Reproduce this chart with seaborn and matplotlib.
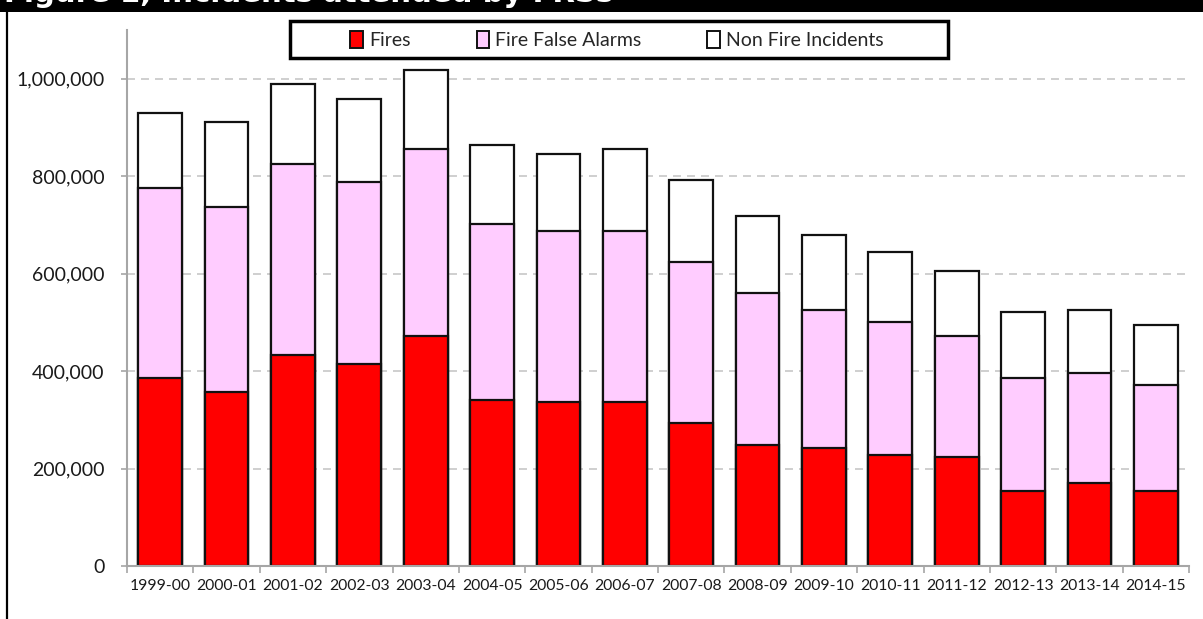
import matplotlib
matplotlib.use("Agg")
import matplotlib.pyplot as plt
from matplotlib.patches import Rectangle, Patch
from matplotlib.lines import Line2D
from matplotlib.ticker import FuncFormatter, FixedLocator
import seaborn as sns
import pandas as pd

# Financial years
years = ["1999-00", "2000-01", "2001-02", "2002-03", "2003-04", "2004-05",
         "2005-06", "2006-07", "2007-08", "2008-09", "2009-10", "2010-11",
         "2011-12", "2012-13", "2013-14", "2014-15"]

# Incidents attended, by type
fires = [386000, 358000, 432000, 414000, 473000, 340000, 336000, 336000,
         294000, 249000, 242000, 227000, 224000, 154000, 171000, 154000]
fire_false_alarms = [389000, 379000, 392000, 375000, 383000, 361000, 351000, 351000,
                     330000, 311000, 283000, 274000, 249000, 232000, 225000, 218000]
non_fire_incidents = [155000, 175000, 165000, 169000, 161000, 162000, 158000, 169000,
                      169000, 159000, 155000, 144000, 133000, 136000, 130000, 123000]

series_names = ["Fires", "Fire False Alarms", "Non Fire Incidents"]
series_colors = ["#FF0000", "#FFCCFF", "#FFFFFF"]
y_ticks = [0, 200000, 400000, 600000, 800000, 1000000]

df = pd.DataFrame({
    "year": years,
    "fires": fires,
    "false_alarms": fire_false_alarms,
    "non_fire": non_fire_incidents,
})
# cumulative heights for stacking (drawn back-to-front)
df["lvl1"] = df["fires"]
df["lvl2"] = df["fires"] + df["false_alarms"]
df["lvl3"] = df["lvl2"] + df["non_fire"]

sns.set_theme(style="white")
plt.rcParams["font.family"] = ["Lato", "DejaVu Sans"]

W, H = 1203, 619
fig = plt.figure(figsize=(W / 100, H / 100), dpi=100)
ax = fig.add_axes([127 / W, 1 - 566 / H, (1189 - 127) / W, (566 - 30) / H])

edge = "#111111"
for col, color in zip(["lvl3", "lvl2", "lvl1"], series_colors[::-1]):
    sns.barplot(data=df, x="year", y=col, color=color, width=0.66,
                edgecolor=edge, linewidth=1.6, saturation=1, ax=ax, zorder=3)

ax.set_ylim(0, 1100000)
ax.set_xlim(-0.5, len(years) - 0.5)
ax.set_xlabel("")
ax.set_ylabel("")

# dashed horizontal gridlines
for v in y_ticks[1:]:
    ax.axhline(v, color="#CFCFCF", lw=1.4, linestyle=(0, (4.1, 3.1)), zorder=1)

ax.yaxis.set_major_locator(FixedLocator(y_ticks))
ax.yaxis.set_major_formatter(FuncFormatter(lambda v, p: f"{int(v):,}"))
ax.tick_params(axis="y", which="major", direction="out", length=4, width=1.2,
               color="#A6A6A6", pad=12, labelsize=14, labelcolor="#1A1A1A", left=True)

ax.xaxis.set_minor_locator(FixedLocator([i - 0.5 for i in range(len(years) + 1)]))
ax.tick_params(axis="x", which="major", length=0, pad=9, labelsize=11.3, labelcolor="#1A1A1A")
ax.tick_params(axis="x", which="minor", direction="out", length=5, width=1.2,
               color="#A6A6A6", bottom=True)

for s in ["top", "right"]:
    ax.spines[s].set_visible(False)
for s in ["left", "bottom"]:
    ax.spines[s].set_color("#A6A6A6")
    ax.spines[s].set_linewidth(1.5)
    ax.spines[s].set_zorder(4)

# legend with a separately drawn heavy frame
handles = [Patch(facecolor=c, edgecolor=edge, linewidth=1.4) for c in series_colors]
fig.legend(handles, series_names, loc="center", bbox_to_anchor=(617 / W, 1 - 40 / H),
           ncol=3, frameon=False, fontsize=14, handlelength=0.65, handleheight=0.95,
           handletextpad=0.3, columnspacing=3.4)
fig.patches.append(Rectangle((290 / W, 1 - 58 / H), (948 - 290) / W, 37 / H,
                             transform=fig.transFigure, fill=False,
                             edgecolor="black", linewidth=2.5, zorder=5))

# page header band (title runs off the top of the page) and left page rule
fig.patches.append(Rectangle((0, 1 - 12 / H), 1, 12 / H, transform=fig.transFigure,
                             facecolor="black", edgecolor="none", zorder=6))
fig.text(4 / W, 1 - 1.5 / H, "Figure 1, Incidents attended by FRSs",
         color="white", fontsize=21, fontweight="bold", family="DejaVu Sans",
         va="baseline", ha="left", zorder=7)
fig.lines.append(Line2D([7 / W, 7 / W], [0, 1 - 12 / H], transform=fig.transFigure,
                        color="black", lw=1.6, zorder=6))

fig.savefig("out.png", dpi=100)
